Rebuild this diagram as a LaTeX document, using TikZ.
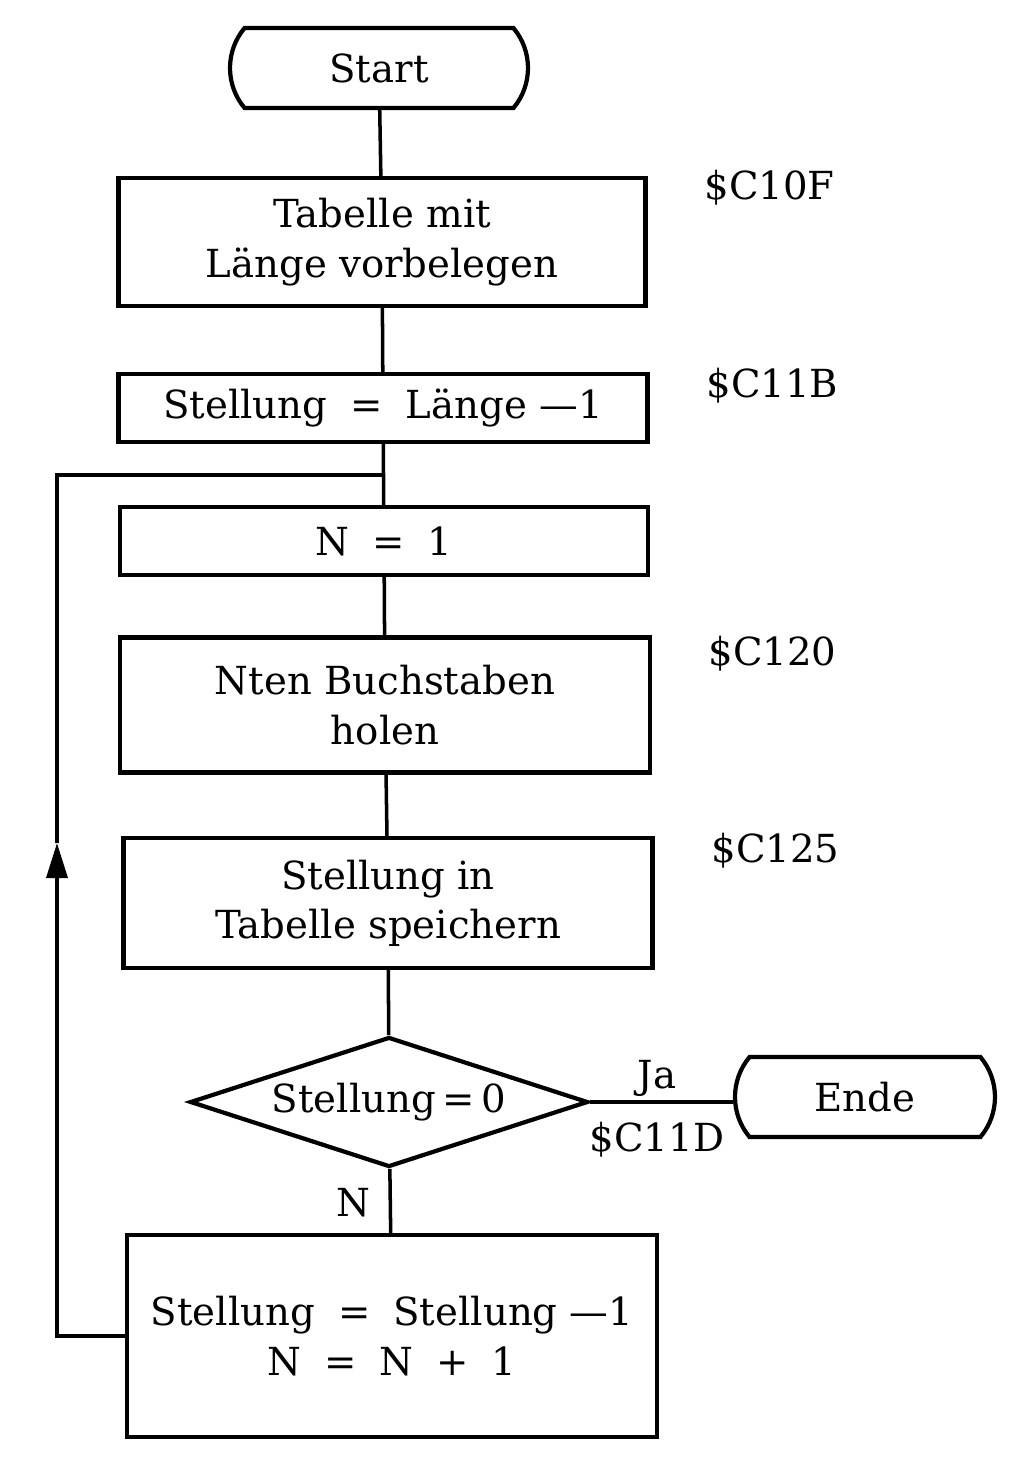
\documentclass[tikz,border=0pt]{standalone}
\usepackage{fontspec}
\setmainfont{DejaVu Serif}
\usepackage{tikz}
\usetikzlibrary{arrows.meta,shapes.geometric,shapes.misc}

\begin{document}
\begin{tikzpicture}[
    x=0.1mm, y=-0.1mm,
    >={Triangle[length=3.5mm,width=2.1mm]},
    every node/.style={font=\fontsize{11}{14}\selectfont},
    process/.style={
      draw, line width=1.2pt, rectangle,
      minimum width=#1, inner sep=0pt, align=center,
    },
    terminal/.style={
      draw, line width=1.2pt, rounded rectangle,
      rounded rectangle arc length=80,
      minimum height=8mm, inner sep=0pt,
    },
    decision/.style={
      draw, line width=1.2pt, diamond, aspect=3.06,
      minimum width=39.8mm, minimum height=13mm, inner sep=0pt,
    },
    conn/.style={line width=1pt},
    addr/.style={anchor=west},
  ]
  \useasboundingbox (0,0) rectangle (1020,1458);

  % =================== Start ===================
  \node[terminal, minimum width=29.8mm] (start) at (379,68) {Start};

  % =================== Init ===================
  \node[process=52.7mm, minimum height=12.8mm] (b1) at (382,242)
    {Tabelle mit\\Länge vorbelegen};
  \node[addr] (a1) at (692,188) {\$C10F};

  \node[process=52.9mm, minimum height=6.8mm] (b2) at (383,408)
    {Stellung \;=\; Länge —1};
  \node[addr] (a2) at (694,386) {\$C11B};

  % =================== Loop body ===================
  \node[process=52.8mm, minimum height=6.8mm] (b3) at (384,541) {N \;=\; 1};

  \node[process=53mm, minimum height=13.5mm] (b4) at (385,705)
    {Nten Buchstaben\\holen};
  \node[addr] (a3) at (696,654) {\$C120};

  \node[process=52.9mm, minimum height=13mm] (b5) at (388,903)
    {Stellung in\\Tabelle speichern};
  \node[addr] (a4) at (699,851) {\$C125};

  % =================== Test ===================
  \node[decision] (test) at (389,1102) {Stellung\,=\,0};
  \node[terminal, minimum width=26mm] (ende) at (865,1097) {Ende};
  \node (ja) at (657,1078) {Ja};
  \node (a5) at (657,1140) {\$C11D};
  \node (nein) at (353,1203) {N};

  \node[process=53mm, minimum height=20.2mm] (b6) at (392,1336)
    {Stellung \;=\; Stellung —1\\N \;=\; N \;+\; 1};

  % =================== Connectors ===================
  \coordinate (join) at (385,475);
  \coordinate (loopup) at (57,843);

  \draw[conn] (start) -- (b1);
  \draw[conn] (b1) -- (b2);
  \draw[conn] (b2) -- (b3);
  \draw[conn] (b3) -- (b4);
  \draw[conn] (b4) -- (b5);
  \draw[conn] (b5) -- (test);
  \draw[conn] (test.east) -- (ende.west |- test.east);
  \draw[conn] (test) -- (b6);

  % back loop
  \draw[conn, ->] (b6.west) -| (loopup);
  \draw[conn] (loopup) |- (join);

\end{tikzpicture}
\end{document}
